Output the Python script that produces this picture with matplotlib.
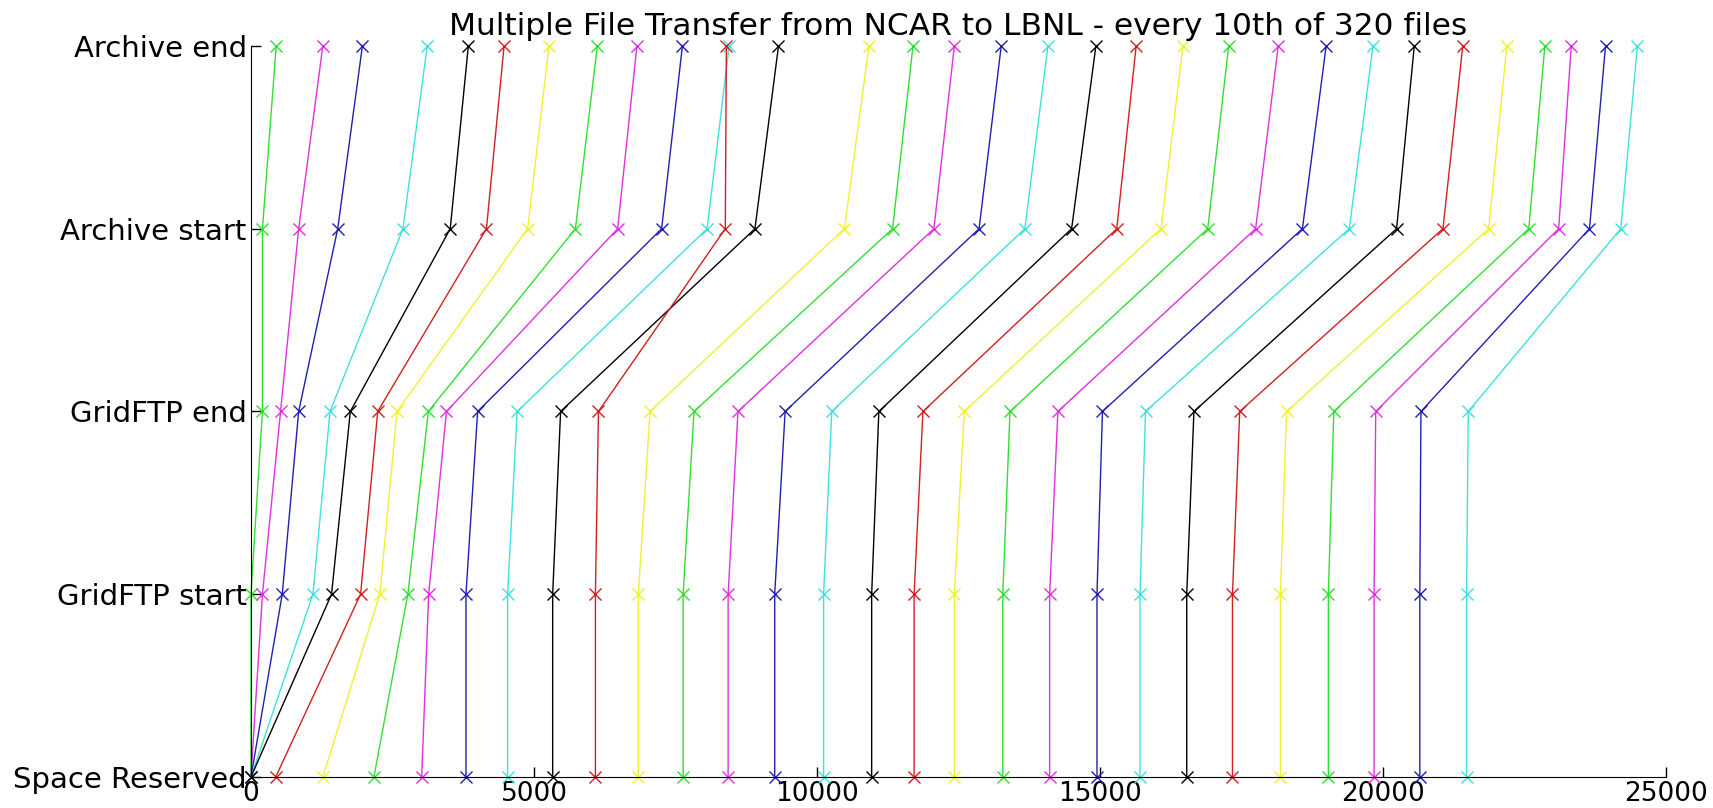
import matplotlib
matplotlib.use("Agg")
import matplotlib.pyplot as plt

# stage names (y axis, bottom to top)
etapas = ["Space Reserved", "GridFTP start", "GridFTP end", "Archive start", "Archive end"]

# time (s) at which every 10th file reached each stage
space_reserved = [0, 0, 0, 0, 0, 437, 1270, 2173, 3017, 3799, 4535, 5331, 6086, 6843,
                  7636, 8431, 9254, 10118, 10967, 11717, 12428, 13284, 14112, 14948,
                  15708, 16534, 17342, 18189, 19036, 19844, 20652, 21478]
gridftp_start = [0, 203, 553, 1095, 1424, 1937, 2277, 2772, 3140, 3799, 4535, 5331, 6086,
                 6843, 7636, 8431, 9254, 10118, 10967, 11717, 12428, 13284, 14112, 14948,
                 15708, 16534, 17342, 18189, 19036, 19844, 20652, 21478]
gridftp_end = [203, 523, 843, 1397, 1756, 2240, 2580, 3134, 3454, 4005, 4704, 5471, 6140,
               7052, 7828, 8605, 9438, 10262, 11094, 11873, 12603, 13411, 14257, 15045,
               15806, 16661, 17470, 18297, 19133, 19873, 20672, 21508]
archive_start = [203, 843, 1533, 2686, 3521, 4161, 4889, 5733, 6479, 7256, 8060, 8905, 8381,
                 10486, 11337, 12067, 12865, 13673, 14500, 15298, 16078, 16905, 17751,
                 18578, 19406, 20242, 21061, 21869, 22578, 23105, 23650, 24203]
archive_end = [446, 1270, 1969, 3114, 3841, 4472, 5266, 6120, 6819, 7623, 8449, 9321, 8400,
               10920, 11697, 12428, 13256, 14082, 14929, 15640, 16467, 17275, 18151, 18997,
               19825, 20554, 21411, 22189, 22861, 23328, 23933, 24497]

cores = ["#30e030", "#e030e0", "#2020b0", "#40e0e0", "#000000", "#d02020", "#f0f030"]

plt.rcParams['font.family'] = ['DejaVu Sans']

fig = plt.figure(figsize=(17.13, 8.08), dpi=100)
ax = fig.add_axes([0.1465, 0.0384, 0.826, 0.9047])

tempos = list(zip(space_reserved, gridftp_start, gridftp_end, archive_start, archive_end))
for i, t in enumerate(tempos):
    ax.plot(t, range(len(etapas)), color=cores[i % len(cores)], marker='x',
            markersize=9, markeredgewidth=1.0, linewidth=1.0, clip_on=False)

ax.set_xlim(0, 25000)
ax.set_ylim(0, 4)
ax.set_yticks(range(len(etapas)))
ax.set_yticklabels(etapas)
ax.set_xticks([0, 5000, 10000, 15000, 20000, 25000])
ax.tick_params(direction='in', length=7, width=1)
ax.tick_params(axis='y', labelsize=21, pad=3)
ax.tick_params(axis='x', labelsize=19, pad=3)
ax.spines['top'].set_visible(False)
ax.spines['right'].set_visible(False)
ax.set_title("Multiple File Transfer from NCAR to LBNL - every 10th of 320 files",
             fontsize=22.5, pad=8)

fig.savefig("out.png", dpi=100)
plt.close(fig)
